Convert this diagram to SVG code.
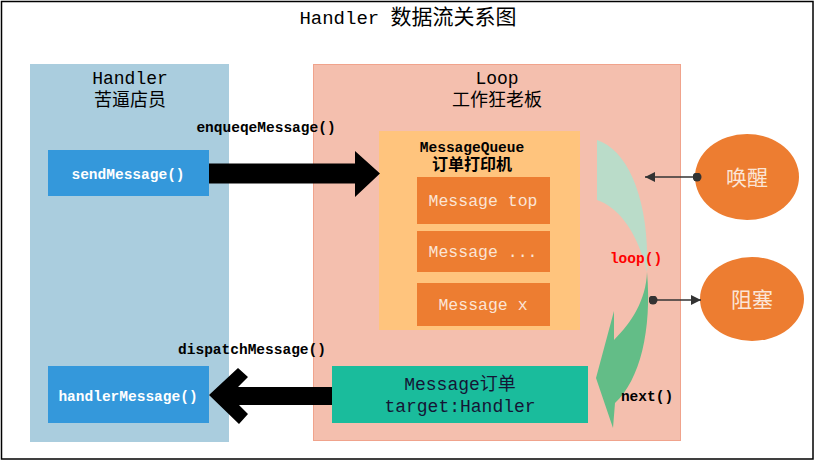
<svg xmlns="http://www.w3.org/2000/svg" width="815" height="461" viewBox="0 0 815 461">
<defs>
<style>
.mono{font-family:"Liberation Mono","Noto Sans CJK SC",monospace;}
.lbl{font-family:"Liberation Mono","Noto Sans CJK SC",monospace;font-weight:bold;font-size:14.5px;}
.ttl{font-family:"Liberation Mono","Noto Sans CJK SC",monospace;font-size:18px;fill:#000;}
.msg{font-family:"Liberation Mono","Noto Sans CJK SC",monospace;font-size:16.5px;fill:#FBE5D6;}
.ell{font-family:"Noto Sans CJK SC",sans-serif;font-size:21px;fill:#FBE5D6;}
.conn{stroke:#333;stroke-width:1.3;fill:none;}
</style>
<marker id="ah" viewBox="0 0 10 10" refX="10" refY="5" markerWidth="10" markerHeight="10" markerUnits="userSpaceOnUse" orient="auto">
<path d="M0,0 L10,5 L0,10 Z" fill="#333"/>
</marker>
<marker id="dot" viewBox="0 0 10 10" refX="5" refY="5" markerWidth="9" markerHeight="9" markerUnits="userSpaceOnUse">
<circle cx="5" cy="5" r="5" fill="#333"/>
</marker>
</defs>
<rect x="0" y="0" width="815" height="461" fill="#fff"/>
<rect x="1.5" y="1.5" width="811.5" height="457.5" fill="none" stroke="#000" stroke-width="1.5"/>
<text class="mono" x="408" y="24" text-anchor="middle" font-size="19"><tspan>Handler </tspan><tspan font-size="21">数据流关系图</tspan></text>

<g id="handler-panel">
<rect x="30" y="64" width="199" height="378" fill="#AACDDE"/>
<text class="ttl" x="130" y="84" text-anchor="middle">Handler</text>
<text class="ttl" x="130" y="106" text-anchor="middle" font-size="19">苦逼店员</text>
</g>

<g id="loop-panel">
<rect x="313.5" y="64.5" width="367" height="376" fill="#F4BFAE" stroke="#F0A38C" stroke-width="1"/>
<text class="ttl" x="497" y="84" text-anchor="middle">Loop</text>
<text class="ttl" x="497" y="106" text-anchor="middle" font-size="19">工作狂老板</text>
</g>

<g id="sendMessage">
<rect x="48" y="150" width="161" height="46" fill="#3498DB"/>
<text class="lbl" x="128" y="179" text-anchor="middle" fill="#fff">sendMessage()</text>
</g>

<g id="handlerMessage">
<rect x="48" y="366" width="161" height="57" fill="#3498DB"/>
<text class="lbl" x="128" y="401" text-anchor="middle" fill="#fff">handlerMessage()</text>
</g>

<g id="messageQueue">
<rect x="379" y="131" width="201" height="199" fill="#FFC47D"/>
<text class="lbl" x="472" y="152" text-anchor="middle" fill="#000">MessageQueue</text>
<text class="mono" x="472" y="170" text-anchor="middle" font-size="16" font-weight="bold" fill="#000">订单打印机</text>
</g>

<g id="message-top">
<rect x="417" y="177" width="133" height="47" fill="#ED7D31"/>
<text class="msg" x="483" y="206" text-anchor="middle">Message top</text>
</g>
<g id="message-mid">
<rect x="417" y="231" width="133" height="41" fill="#ED7D31"/>
<text class="msg" x="483" y="257" text-anchor="middle">Message ...</text>
</g>
<g id="message-x">
<rect x="417" y="283" width="133" height="43" fill="#ED7D31"/>
<text class="msg" x="483" y="310" text-anchor="middle">Message x</text>
</g>

<g id="messageOrder">
<rect x="332" y="366" width="256" height="57" fill="#1ABC9C"/>
<text class="mono" x="460" y="390" text-anchor="middle" font-size="18" fill="#151535">Message订单</text>
<text class="mono" x="460" y="412" text-anchor="middle" font-size="18" fill="#151535">target:Handler</text>
</g>

<g id="wake">
<ellipse cx="747" cy="177" rx="52" ry="43" fill="#ED7D31"/>
<text class="ell" x="747" y="185" text-anchor="middle">唤醒</text>
</g>
<g id="block">
<ellipse cx="752" cy="299" rx="52" ry="42" fill="#ED7D31"/>
<text class="ell" x="752" y="307" text-anchor="middle">阻塞</text>
</g>

<g id="loop-arrow">
<path d="M597,140 C628,150 650,200 647,272 C640,240 622,208 597,200 Z" fill="#BADCC9"/>
<path d="M647,272 C652,330 640,380 615,403 L613,428 L596,378 L614,311 L614,340 C632,322 646,300 647,272 Z" fill="#63BD87"/>
</g>

<g id="connectors">
<polygon points="209,163.5 355,163.5 355,151 380,173.5 355,197 355,183.5 209,183.5" fill="#000"/>
<polygon points="209,395 238,368 248,377 238,387 332,387 332,405 239,405 248,414 239,424" fill="#000"/>
<line class="conn" x1="697" y1="177" x2="645" y2="177" marker-start="url(#dot)" marker-end="url(#ah)"/>
<line class="conn" x1="653" y1="300" x2="701" y2="300" marker-start="url(#dot)" marker-end="url(#ah)"/>
<text class="lbl" x="266" y="132" text-anchor="middle" fill="#000">enqueqeMessage()</text>
<text class="lbl" x="252" y="354" text-anchor="middle" fill="#000">dispatchMessage()</text>
<text class="lbl" x="636" y="263" text-anchor="middle" fill="#FF0000">loop()</text>
<text class="lbl" x="647" y="401" text-anchor="middle" fill="#000">next()</text>
</g>
</svg>
